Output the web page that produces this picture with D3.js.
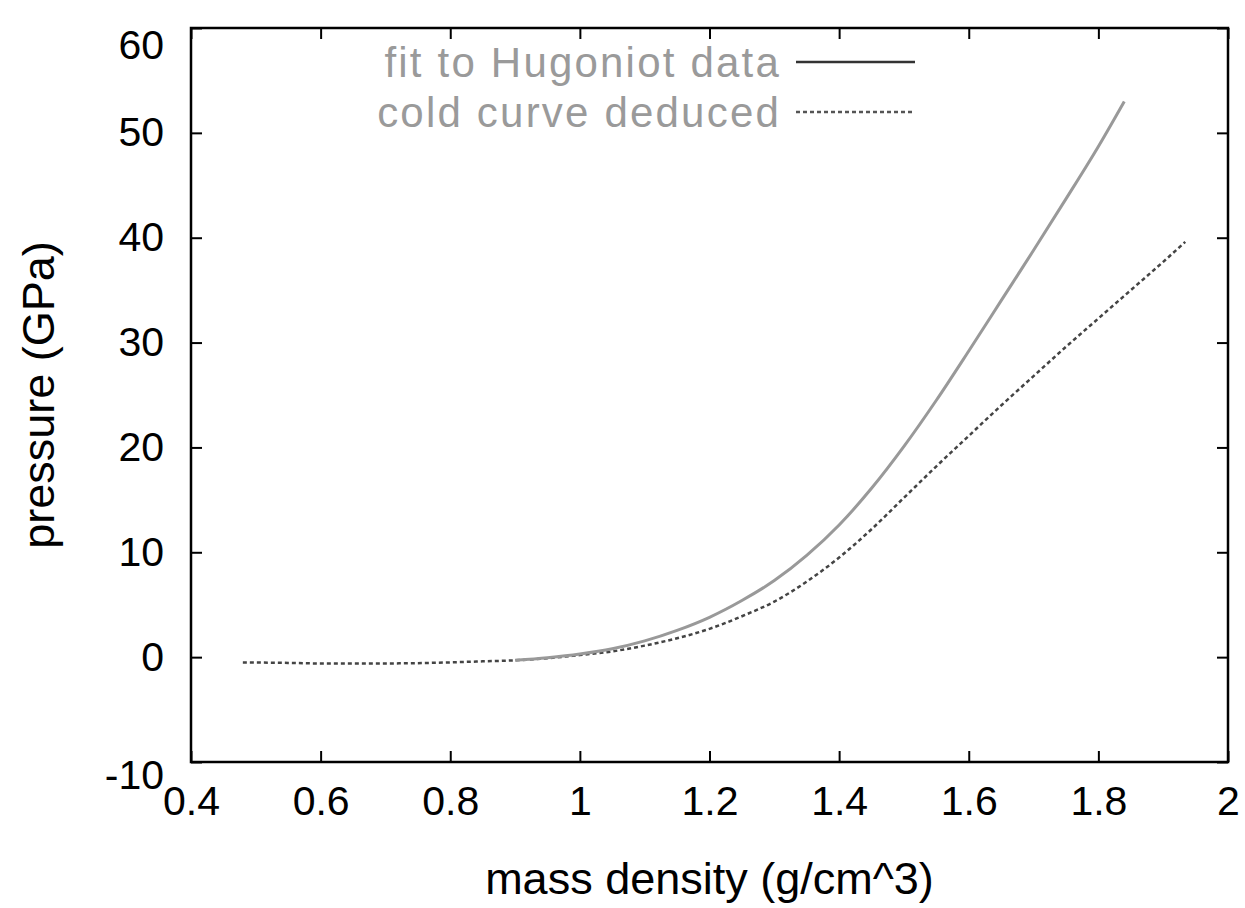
<!DOCTYPE html>
<html>
<head>
<meta charset="utf-8">
<script src="https://cdn.jsdelivr.net/npm/d3@7"></script>
<style>
  body { margin: 0; background: #fff; }
  svg { display: block; font-family: "Liberation Sans", Arial, sans-serif; }
</style>
</head>
<body>
<svg id="chart"></svg>
<script>
const width = 1245;
const height = 908;
const margin = { top: 28, right: 17, bottom: 146, left: 191 };

// fit to Hugoniot data (solid)
const fitDensity = [0.9, 0.95, 1.0, 1.05, 1.1, 1.15, 1.2, 1.25, 1.3, 1.35, 1.4, 1.45, 1.5, 1.55, 1.6, 1.65, 1.7, 1.75, 1.8, 1.84];
const fitPressure = [-0.3, -0.05, 0.3, 0.8, 1.55, 2.55, 3.8, 5.4, 7.3, 9.7, 12.6, 16.1, 20.1, 24.5, 29.2, 34.0, 38.8, 43.7, 48.7, 53.0];

// cold curve deduced (dashed)
const coldDensity = [0.48, 0.55, 0.6, 0.7, 0.8, 0.85, 0.9, 0.95, 1.0, 1.05, 1.1, 1.15, 1.2, 1.25, 1.3, 1.35, 1.4, 1.45, 1.5, 1.55, 1.6, 1.65, 1.7, 1.75, 1.8, 1.85, 1.9, 1.934];
const coldPressure = [-0.5, -0.55, -0.6, -0.6, -0.5, -0.4, -0.3, -0.1, 0.2, 0.55, 1.1, 1.8, 2.7, 3.9, 5.3, 7.2, 9.5, 12.2, 15.2, 18.2, 21.1, 24.0, 26.8, 29.6, 32.3, 35.0, 37.7, 39.6];

const xTicks = [0.4, 0.6, 0.8, 1, 1.2, 1.4, 1.6, 1.8, 2];
const yTicks = [-10, 0, 10, 20, 30, 40, 50, 60];

const legendLabels = ["fit to Hugoniot data", "cold curve deduced"];

const svg = d3.select("#chart")
    .attr("width", width)
    .attr("height", height);

const xScale = d3.scaleLinear()
    .domain([0.4, 2])
    .range([margin.left, width - margin.right]);

const yScale = d3.scaleLinear()
    .domain([-10, 60])
    .range([height - margin.bottom, margin.top]);

const fontSize = 41;
const fmt = d => String(d);   // plain hyphen for negatives, like gnuplot

// bottom axis: ticks point inward
const xAxis = svg.append("g")
    .attr("transform", `translate(0, ${height - margin.bottom})`)
    .call(d3.axisBottom(xScale).tickValues(xTicks).tickSizeInner(-11).tickSizeOuter(0).tickPadding(24).tickFormat(fmt));
xAxis.select(".domain").remove();
xAxis.selectAll("text").attr("font-size", fontSize).attr("fill", "#000").attr("font-family", "Liberation Sans, Arial, sans-serif");
xAxis.selectAll("line").attr("stroke", "#000").attr("stroke-width", 2);

// top mirror ticks
const xTop = svg.append("g")
    .attr("transform", `translate(0, ${margin.top})`)
    .call(d3.axisTop(xScale).tickValues(xTicks).tickSizeInner(-11).tickSizeOuter(0).tickFormat(""));
xTop.select(".domain").remove();
xTop.selectAll("line").attr("stroke", "#000").attr("stroke-width", 2);

// left axis
const yAxis = svg.append("g")
    .attr("transform", `translate(${margin.left}, 0)`)
    .call(d3.axisLeft(yScale).tickValues(yTicks).tickSizeInner(-11).tickSizeOuter(0).tickPadding(27).tickFormat(fmt));
yAxis.select(".domain").remove();
yAxis.selectAll("text").attr("font-size", fontSize).attr("fill", "#000").attr("font-family", "Liberation Sans, Arial, sans-serif")
    .attr("dy", d => d === 60 ? "0.75em" : d === -10 ? "0.65em" : "0.32em");
yAxis.selectAll("line").attr("stroke", "#000").attr("stroke-width", 2);

// right mirror ticks
const yRight = svg.append("g")
    .attr("transform", `translate(${width - margin.right}, 0)`)
    .call(d3.axisRight(yScale).tickValues(yTicks).tickSizeInner(-11).tickSizeOuter(0).tickFormat(""));
yRight.select(".domain").remove();
yRight.selectAll("line").attr("stroke", "#000").attr("stroke-width", 2);

// frame
svg.append("rect")
    .attr("x", margin.left)
    .attr("y", margin.top)
    .attr("width", width - margin.left - margin.right)
    .attr("height", height - margin.top - margin.bottom)
    .attr("fill", "none")
    .attr("stroke", "#000")
    .attr("stroke-width", 2.5);

// axis titles
svg.append("text")
    .attr("x", (margin.left + width - margin.right) / 2)
    .attr("y", 894)
    .attr("text-anchor", "middle")
    .attr("font-size", 45)
    .text("mass density (g/cm^3)");

svg.append("text")
    .attr("transform", `translate(54, ${(margin.top + height - margin.bottom) / 2}) rotate(-90)`)
    .attr("text-anchor", "middle")
    .attr("font-size", 45)
    .text("pressure (GPa)");

// curves
const line = d3.line()
    .x(d => xScale(d[0]))
    .y(d => yScale(d[1]))
    .curve(d3.curveMonotoneX);

const fitData = fitDensity.map((d, i) => [d, fitPressure[i]]);
const coldData = coldDensity.map((d, i) => [d, coldPressure[i]]);

svg.append("path")
    .datum(coldData)
    .attr("d", line)
    .attr("fill", "none")
    .attr("stroke", "#444")
    .attr("stroke-width", 2.5)
    .attr("stroke-dasharray", "4,3");

svg.append("path")
    .datum(fitData)
    .attr("d", line)
    .attr("fill", "none")
    .attr("stroke", "#999")
    .attr("stroke-width", 3);

// legend
const legend = svg.append("g");
const legendY = [62, 112];
legendLabels.forEach((label, i) => {
    legend.append("text")
        .attr("x", 781)
        .attr("y", legendY[i])
        .attr("dy", "0.36em")
        .attr("text-anchor", "end")
        .attr("font-size", 42)
        .attr("letter-spacing", 2.2)
        .attr("fill", "#9a9a9a")
        .text(label);
    legend.append("line")
        .attr("x1", 796)
        .attr("x2", 915)
        .attr("y1", legendY[i])
        .attr("y2", legendY[i])
        .attr("stroke", i === 0 ? "#333" : "#555")
        .attr("stroke-width", 2.5)
        .attr("stroke-dasharray", i === 0 ? null : "4,3");
});
</script>
</body>
</html>
